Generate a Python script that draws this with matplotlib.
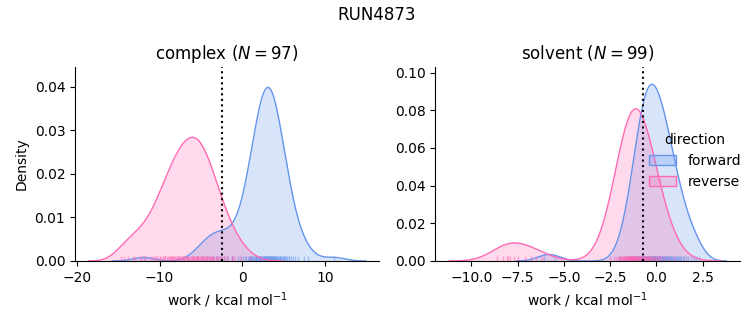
import numpy as np
import matplotlib.pyplot as plt
from matplotlib.colors import to_rgba
from matplotlib.patches import Patch

# nonequilibrium work values per phase and direction (kcal/mol)
complex_forward = [
    -11.9,
    -5.5, -4.8, -4.3, -3.9, -3.5, -3.2, -2.9, -2.6, -2.2, -1.8, -1.3,
    -1.3, -0.5, -0.2, 0.1, 0.3, 0.5, 0.7, 0.8, 0.9, 1.0, 1.1, 1.2, 1.3, 1.4,
    1.5, 1.6, 1.7, 1.7, 1.8, 1.9, 2.0, 2.0, 2.1, 2.2, 2.2, 2.3, 2.3, 2.4,
    2.5, 2.5, 2.6, 2.6, 2.7, 2.8, 2.8, 2.9, 2.9, 3.0, 3.0, 3.1,
    3.1, 3.2, 3.2, 3.3, 3.3, 3.4, 3.5, 3.5, 3.6, 3.6, 3.7, 3.7, 3.8, 3.9,
    3.9, 4.0, 4.0, 4.1, 4.2, 4.2, 4.3, 4.4, 4.5, 4.5, 4.6, 4.7, 4.8, 4.9,
    5.0, 5.1, 5.2, 5.3, 5.4, 5.6, 5.7, 5.9, 6.1, 6.4, 6.7, 7.5,
    3.1, 2.6, 3.6,
    7.9, 11.1,
]
complex_reverse = [
    -14.3, -13.8, -13.0,
    -14.6, -13.2, -12.4, -11.9, -11.6, -11.2, -10.9, -10.7, -10.4, -10.2,
    -10.0, -9.8, -9.6, -9.5, -9.3, -9.1, -9.0, -8.9, -8.7, -8.6, -8.5, -8.4,
    -8.2, -8.1, -8.0, -7.9, -7.8, -7.6, -7.5, -7.4, -7.3, -7.2, -7.1, -7.0,
    -6.9, -6.8, -6.7, -6.6, -6.5, -6.4,
    -6.2, -6.2, -6.1, -6.0, -5.9, -5.8, -5.7, -5.6, -5.5, -5.4, -5.3, -5.2,
    -5.1, -5.0, -4.9, -4.8, -4.7, -4.6, -4.5, -4.4, -4.3, -4.2, -4.0, -3.9,
    -3.8, -3.7, -3.5, -3.4, -3.2, -3.1, -2.9, -2.7, -2.5, -2.2, -2.0, -1.7,
    -1.3, -0.9, -0.3, 0.9,
    -12.2, -10.4, -9.3, -8.5, -7.8, -7.2, -6.6,
    -6.0, -5.5, -5.0, -4.4, -3.6, -2.7, -1.1,
]
solvent_forward = [
    -6.1, -5.5,
    -2.03, -1.76, -1.61, -1.51, -1.43, -1.36, -1.30, -1.25, -1.20, -1.15,
    -1.11, -1.07, -1.04, -1.00, -0.97, -0.93, -0.90, -0.87, -0.84, -0.82,
    -0.79, -0.76, -0.73, -0.71, -0.68, -0.66, -0.63, -0.61, -0.58, -0.56,
    -0.53, -0.51, -0.49, -0.46,
    -0.44, -0.41, -0.39, -0.37, -0.34, -0.32, -0.29, -0.27, -0.25, -0.22,
    -0.20, -0.17, -0.15, -0.12, -0.10, -0.07, -0.05, -0.02, 0.00, 0.03,
    0.06, 0.08, 0.11, 0.14, 0.16, 0.19, 0.22, 0.25, 0.28, 0.31,
    0.34, 0.36, 0.39, 0.42, 0.45, 0.49, 0.52, 0.55, 0.58, 0.62,
    0.66, 0.69, 0.73, 0.77, 0.81, 0.85, 0.90, 0.94, 0.99, 1.04,
    1.09, 1.15, 1.21, 1.27, 1.34, 1.42, 1.51, 1.60, 1.71, 1.85,
    2.02, 2.15, 2.30,
]
solvent_reverse = [
    -8.6, -8.3, -8.1, -8.0, -7.9, -7.7, -7.5, -7.1, -6.8, -6.5, -6.2,
    -2.53, -2.29, -2.17, -2.09, -2.03, -1.97, -1.92, -1.88, -1.84, -1.80,
    -1.77, -1.73, -1.71, -1.68, -1.65, -1.62, -1.60, -1.58, -1.55, -1.53,
    -1.51, -1.49, -1.47, -1.45, -1.43, -1.41, -1.39, -1.37, -1.35, -1.33,
    -1.32, -1.30, -1.28, -1.26, -1.24, -1.23, -1.21, -1.19, -1.18, -1.16,
    -1.13, -1.11, -1.08, -1.06, -1.03, -1.01, -0.98, -0.95, -0.92, -0.90,
    -0.87, -0.84, -0.81, -0.78, -0.75, -0.72, -0.69, -0.66, -0.62, -0.60,
    -0.56, -0.53, -0.49, -0.45, -0.42, -0.38, -0.33, -0.29, -0.25, -0.20,
    -0.15, -0.09, -0.03, 0.04, 0.12, 0.20, 0.30, 0.43, 0.62, 0.98,
    -1.99, -1.64, -1.42, -1.24, -1.01, -0.73, -0.39, 0.15,
]

# free energy estimates (dotted lines)
complex_dg = -2.4
solvent_dg = -0.72

run_name = "RUN4873"
directions = ["forward", "reverse"]
colors = {"forward": "cornflowerblue", "reverse": "hotpink"}

# densities are normalised over every row in the work table (both phases)
n_rows = (len(complex_forward) + len(complex_reverse)
          + len(solvent_forward) + len(solvent_reverse))


def kde(values, n_total, cut=3, gridsize=200):
    # gaussian kde with scott's bandwidth, same support rule as seaborn
    v = np.asarray(values, dtype=float)
    bw = len(v) ** (-1 / 5) * v.std(ddof=1)
    grid = np.linspace(v.min() - cut * bw, v.max() + cut * bw, gridsize)
    z = (grid[:, None] - v[None, :]) / bw
    dens = np.exp(-0.5 * z ** 2).sum(axis=1) / (np.sqrt(2 * np.pi) * bw * n_total)
    return grid, dens


fig, axes = plt.subplots(1, 2, figsize=(7.53, 3.25), dpi=100)
fig.subplots_adjust(left=0.0996, right=0.9827, bottom=0.197, top=0.794, wspace=0.184)

panels = [
    ("complex", {"forward": complex_forward, "reverse": complex_reverse}, complex_dg, 0.0446),
    ("solvent", {"forward": solvent_forward, "reverse": solvent_reverse}, solvent_dg, 0.103),
]

for ax, (phase, works, dg, ytop) in zip(axes, panels):
    for d in directions:
        x, y = kde(works[d], n_rows)
        ax.fill_between(x, y, color=colors[d], alpha=0.25, linewidth=0)
        ax.plot(x, y, color=colors[d], linewidth=1.0)
        # rug along the bottom
        ax.vlines(works[d], 0, 0.025, transform=ax.get_xaxis_transform(),
                  color=colors[d], alpha=0.5, linewidth=1.0)
    ax.axvline(dg, color="k", linestyle=":", linewidth=1.5)
    ax.set_ylim(0, ytop)
    ax.set_title(f"{phase} ($N = {len(works['forward'])}$)")
    ax.set_xlabel("work / kcal mol$^{-1}$")
    ax.spines["top"].set_visible(False)
    ax.spines["right"].set_visible(False)

axes[0].set_ylabel("Density")

handles = [Patch(facecolor=to_rgba(colors[d], 0.25), edgecolor=colors[d], label=d)
           for d in directions]
axes[1].legend(handles=handles, title="direction", loc="center right",
               bbox_to_anchor=(1.045, 0.515), frameon=False)

fig.suptitle(run_name)
plt.savefig("out.png", dpi=100)
